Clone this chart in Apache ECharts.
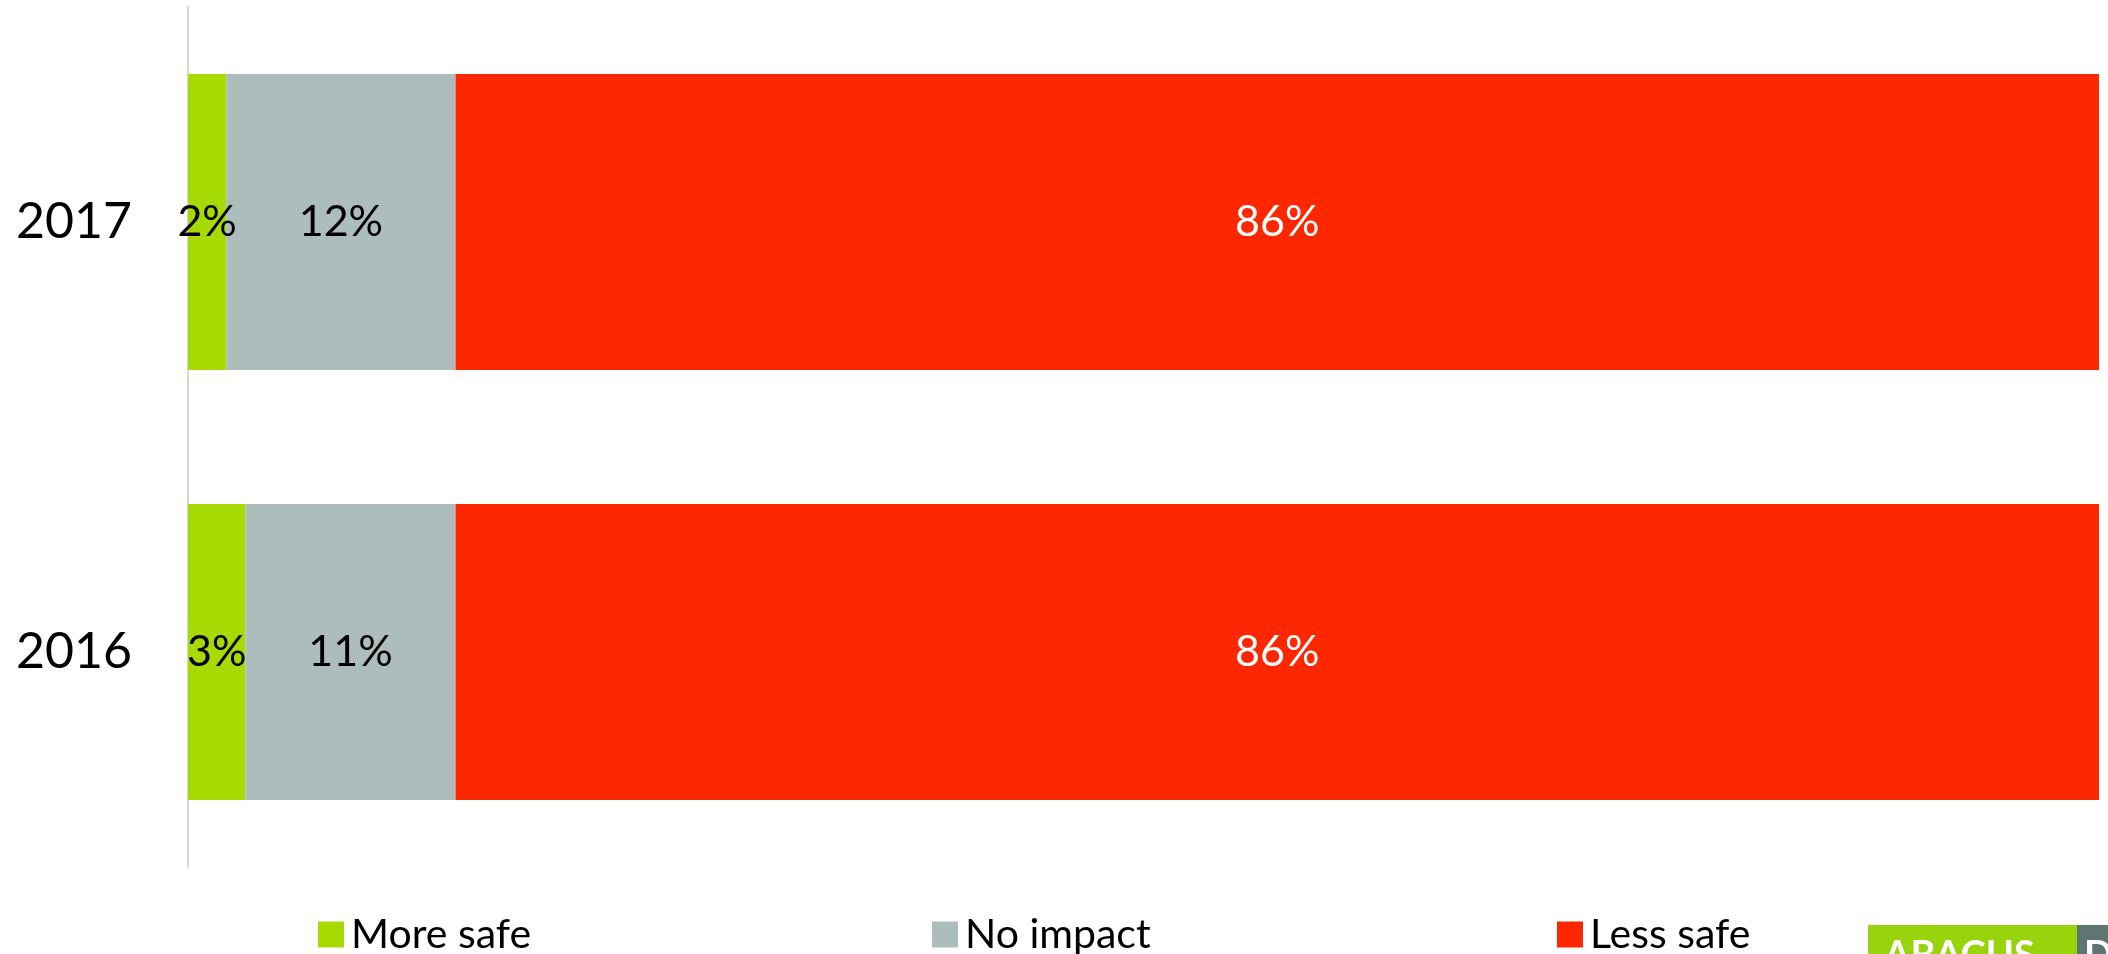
<!DOCTYPE html>
<html>
<head>
<meta charset="utf-8">
<script src="https://cdn.jsdelivr.net/npm/echarts@6/dist/echarts.min.js"></script>
<style>html,body{margin:0;padding:0;background:#fff}#c{width:2108px;height:954px}</style>
</head>
<body>
<div id="c"></div>
<script>
const years = ['2017', '2016'];
const moreSafe = [2, 3];
const noImpact = [12, 11];
const lessSafe = [86, 86];
const seriesNames = ['More safe', 'No impact', 'Less safe'];
const colors = ['#a6da00', '#adbdbc', '#ff2700'];
const labelColors = ['#000000', '#000000', '#ffffff'];
const valuesList = [moreSafe, noImpact, lessSafe];

const FONT = 'Lato, "Noto Sans", sans-serif';
const chart = echarts.init(document.getElementById('c'));

const series = seriesNames.map((name, i) => ({
  name: name,
  type: 'bar',
  stack: 'total',
  barWidth: 296,
  data: valuesList[i],
  itemStyle: { color: colors[i] },
  label: {
    show: true,
    position: 'inside',
    formatter: '{c}%',
    color: labelColors[i],
    fontSize: 43,
    fontFamily: FONT
  },
  emphasis: { disabled: true }
}));

const legendLefts = [313, 927, 1552];
const legends = seriesNames.map((name, i) => ({
  data: [name],
  left: legendLefts[i],
  top: 909,
  itemWidth: 26,
  itemHeight: 26,
  itemGap: 0,
  icon: 'rect',
  textStyle: { fontSize: 41, fontFamily: FONT, color: '#000', padding: [0, 0, 0, 2] }
}));

chart.setOption({
  animation: false,
  grid: { left: 188, right: 9, top: 7, bottom: 87 },
  xAxis: {
    type: 'value', min: 0, max: 100,
    show: false
  },
  yAxis: {
    type: 'category',
    data: years,
    inverse: true,
    axisLine: { show: true, lineStyle: { color: '#d9d9d9', width: 2 } },
    axisTick: { show: false },
    axisLabel: { fontSize: 50, fontFamily: FONT, color: '#000', margin: 56 }
  },
  legend: legends,
  series: series,
  graphic: [
    { type: 'rect', shape: { x: 1868, y: 925, width: 209, height: 40 }, style: { fill: '#97d40c' } },
    { type: 'rect', shape: { x: 2077, y: 925, width: 31, height: 40 }, style: { fill: '#5f7572' } },
    { type: 'text', x: 1884, y: 937, style: { text: 'ABACUS', fill: '#fff', font: 'bold 38px ' + FONT } },
    { type: 'text', x: 2084, y: 937, style: { text: 'D', fill: '#fff', font: 'bold 38px ' + FONT } }
  ]
});
</script>
</body>
</html>
